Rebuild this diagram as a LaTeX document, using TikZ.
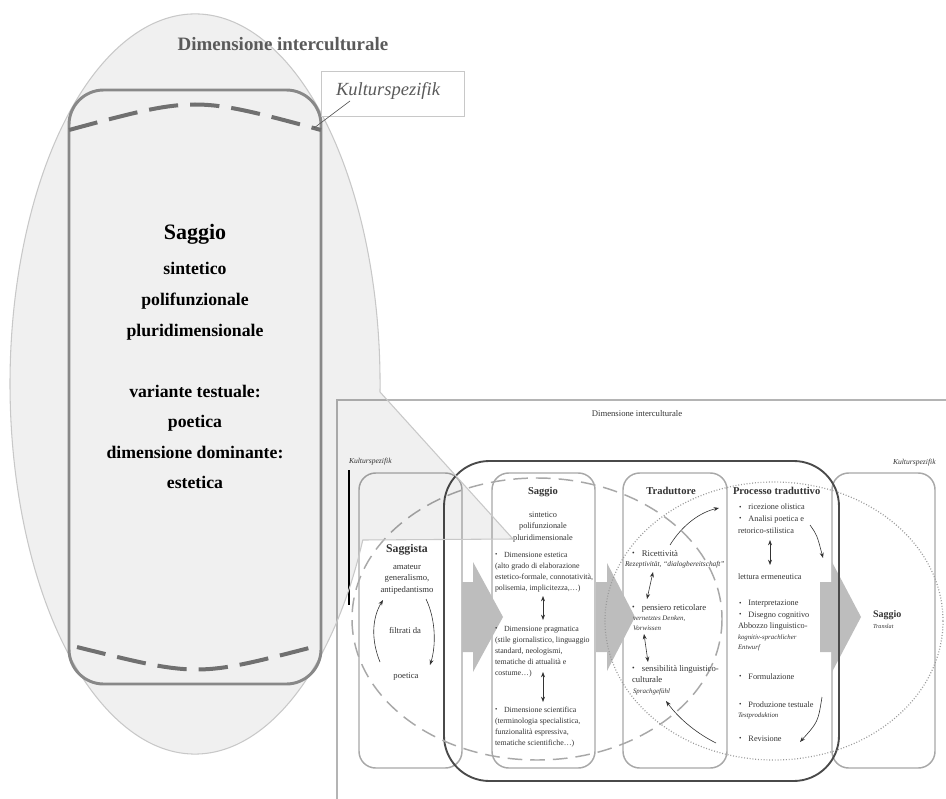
\documentclass[tikz,border=0pt]{standalone}
\usepackage{fontspec}
\usepackage{graphicx}
\setmainfont{Liberation Serif}
\usetikzlibrary{arrows.meta}

\definecolor{boxline}{HTML}{A8A8A8}
\definecolor{darkline}{HTML}{4A4A4A}
\definecolor{arrowfill}{HTML}{BDBDBD}
\definecolor{txt}{HTML}{333333}
\definecolor{headgray}{HTML}{5A5A5A}
\definecolor{framegray}{HTML}{B4B4B4}
\definecolor{dashgray}{HTML}{707070}
\definecolor{rimgray}{HTML}{888888}
\definecolor{calloutline}{HTML}{C8C8C8}
\definecolor{ovalgray}{HTML}{A8A8A8}
\definecolor{dotgray}{HTML}{9A9A9A}

\newcommand{\fsz}[2]{\fontsize{#1}{#2}\selectfont}
\newcommand{\bul}{\raisebox{0.1ex}{\scalebox{0.85}{\textbullet}}\hspace{0.85em}}

\begin{document}
% multi-line nodes are anchored at the baseline of their last line
\begin{tikzpicture}[x=0.75pt,y=-0.75pt,
  every node/.style={inner sep=0pt, outer sep=0pt},
  smallbox/.style={draw=boxline, line width=1.1pt, rounded corners=12.5pt, fill=white},
  bigarrow/.style={fill=arrowfill, draw=none},
  thin/.style={draw=txt, line width=0.45pt, -{Stealth[length=4pt,width=3pt]}},
  twoway/.style={draw=txt, line width=0.45pt, {Stealth[length=4pt,width=3pt]}-{Stealth[length=4pt,width=3pt]}},
  para/.style={text=txt, anchor=base west, align=left},
  cpara/.style={text=txt, anchor=base, align=center},
  bigline/.style={anchor=base, align=center, font=\bfseries\fsz{13.3}{22.9}},
  boxtitle/.style={text=txt, anchor=base, font=\bfseries\fsz{7.9}{9}},
  saggiobody/.style={para, font=\fsz{5.9}{8.25}},
  tradbody/.style={para, font=\fsz{6.5}{8.25}},
  procbody/.style={para, font=\fsz{6.2}{8.4}},
  tinyit/.style={para, font=\itshape\fsz{5.2}{7.5}},
]
\useasboundingbox (0,0) rectangle (946,799);

% ---------- overview diagram ----------
\draw[framegray, line width=1.5pt] (337,400) rectangle (960,820);

\node[text=txt, anchor=base, font=\fsz{6.5}{8}] (dimsmall) at (637,416) {Dimensione interculturale};
\node[text=txt, anchor=base west, font=\itshape\fsz{5.7}{7}] (kultl) at (349,463) {Kulturspezifik};
\node[text=txt, anchor=base west, font=\itshape\fsz{5.7}{7}] (kultr) at (893,464) {Kulturspezifik};
\coordinate (kbarTop) at (349,470);
\coordinate (kbarBot) at (349,605);
\draw[black, line width=0.9pt] (kbarTop) -- (kbarBot);

% the four columns
\node[smallbox, minimum width=103*0.75pt, minimum height=295*0.75pt] (saggista) at (410.5,620.5) {};
\node[smallbox, minimum width=103*0.75pt, minimum height=295*0.75pt] (saggio) at (543.5,620.5) {};
\node[smallbox, minimum width=104*0.75pt, minimum height=295*0.75pt] (trad) at (675,620.5) {};
\node[smallbox, minimum width=103*0.75pt, minimum height=295*0.75pt] (target) at (883.5,620.5) {};

% block arrows between the columns
\path[bigarrow] (462,582) -- (473,582) -- (473,562) -- (503,617) -- (473,672) -- (473,652) -- (462,652) -- cycle;
\path[bigarrow] (596,582) -- (607,582) -- (607,563) -- (635,617) -- (607,671) -- (607,652) -- (596,652) -- cycle;
\path[bigarrow] (820,582) -- (832,582) -- (832,562) -- (861,617) -- (832,672) -- (832,652) -- (820,652) -- cycle;

% translator frame
\draw[darkline, line width=1.4pt, rounded corners=34pt] (444,461) rectangle (839,781);

% overlapping fields
\draw[ovalgray, line width=1.1pt, dash pattern=on 11pt off 6pt] (537,619) ellipse [x radius=185, y radius=141];
\draw[dotgray, line width=0.9pt, dash pattern=on 0.7pt off 1.4pt] (774,621) ellipse [x radius=169, y radius=139];

% Saggista column
\node[text=txt, anchor=base, font=\bfseries\fsz{8.8}{10}] (sgtitle) at (407,552) {Saggista};
\node[cpara, font=\fsz{6.5}{8.6}] (sgtraits) at (407,592) {amateur\\generalismo,\\antipedantismo};
\node[cpara, font=\fsz{6.5}{8}] (sgfilter) at (405,633) {filtrati da};
\node[cpara, font=\fsz{6.5}{8}] (sgpoet) at (406,678) {poetica};
\coordinate (sgA1) at (380,662);
\coordinate (sgA2) at (383,600);
\coordinate (sgB1) at (426,599);
\coordinate (sgB2) at (430,665);
\draw[thin] (sgA1) .. controls (371,640) and (372,618) .. (sgA2);
\draw[thin] (sgB1) .. controls (436,620) and (436,646) .. (sgB2);

% Saggio column
\node[boxtitle] (sotitle) at (543,494) {Saggio};
\node[cpara, font=\fsz{6.2}{8.5}] (sotraits) at (543,540) {sintetico\\polifunzionale\\pluridimensionale};
\node[saggiobody] (soest) at (495,590) {\bul Dimensione estetica\\(alto grado di elaborazione\\estetico-formale, connotatività,\\polisemia, implicitezza,…)};
\node[saggiobody] (soprag) at (495,675) {\bul Dimensione pragmatica\\(stile giornalistico, linguaggio\\standard, neologismi,\\tematiche di attualità e\\costume…)};
\node[saggiobody] (sosci) at (495,745) {\bul Dimensione scientifica\\(terminologia specialistica,\\funzionalità espressiva,\\tematiche scientifiche…)};
\coordinate (soA1) at (543,596);
\coordinate (soA2) at (543,620);
\coordinate (soB1) at (543,672);
\coordinate (soB2) at (543,702);
\draw[twoway] (soA1) -- (soA2);
\draw[twoway] (soB1) -- (soB2);

% Traduttore column
\node[boxtitle] (trtitle) at (671,494) {Traduttore};
\node[tradbody] (trric) at (632,556) {\bul Ricettività};
\node[tinyit, font=\itshape\fsz{5.5}{7}] (trrez) at (625,566) {Rezeptivität, “dialogbereitschaft”};
\node[tradbody] (trpens) at (632,610) {\bul pensiero reticolare};
\node[tinyit] (trvern) at (633,630) {vernetztes Denken,\\Vorwissen};
\node[tradbody] (trsens) at (632,682) {\bul sensibilità linguistico-\\culturale};
\node[tinyit] (trsprach) at (633,693) {Sprachgefühl};
\coordinate (trA1) at (653,572);
\coordinate (trA2) at (647,599);
\coordinate (trB1) at (644,634);
\coordinate (trB2) at (648,662);
\draw[twoway] (trA1) -- (trA2);
\draw[twoway] (trB1) -- (trB2);
\coordinate (trC1) at (670,545);
\coordinate (trC2) at (719,508);
\draw[thin] (trC1) .. controls (683,524) and (701,512) .. (trC2);
\coordinate (trD1) at (716,743);
\coordinate (trD2) at (666,701);
\draw[thin] (trD1) .. controls (698,734) and (680,720) .. (trD2);

% translation process column
\node[text=txt, anchor=base west, font=\bfseries\fsz{7.9}{9}] (prtitle) at (733,494) {Processo traduttivo};
\node[procbody] (prric) at (739,521) {\bul ricezione olistica\\\bul Analisi poetica e};
\node[procbody] (prret) at (738,533) {retorico-stilistica};
\node[procbody] (prlet) at (738,579) {lettura ermeneutica};
\node[procbody] (print) at (739,617) {\bul Interpretazione\\\bul Disegno cognitivo};
\node[procbody] (prabb) at (738,628) {Abbozzo linguistico-};
\node[tinyit, font=\itshape\fsz{5.1}{7.5}] (prkog) at (738,649) {kognitiv-sprachlicher\\Entwurf};
\node[procbody] (prform) at (739,679) {\bul Formulazione};
\node[procbody] (prprod) at (739,707) {\bul Produzione testuale};
\node[tinyit, font=\itshape\fsz{5.1}{7.5}] (prtest) at (738,717) {Testproduktion};
\node[procbody] (prrev) at (739,741) {\bul Revisione};
\coordinate (prA1) at (770,540);
\coordinate (prA2) at (770,565);
\draw[twoway] (prA1) -- (prA2);
\coordinate (prB1) at (810,525);
\coordinate (prB2) at (823,558);
\draw[thin] (prB1) .. controls (817,535) .. (prB2);
\coordinate (prC1) at (822,697);
\coordinate (prC2) at (800,742);
\draw[thin] (prC1) .. controls (818,722) .. (prC2);

% target text column
\node[text=txt, anchor=base west, font=\bfseries\fsz{7.5}{9}] (tgtitle) at (873,617) {Saggio};
\node[text=txt, anchor=base west, font=\itshape\fsz{4.6}{6}] (tgsub) at (873,628) {Translat};

% ---------- magnifying callout ----------
\path[fill=black, fill opacity=0.06, draw=calloutline, line width=0.8pt]
  (362.8,540) arc[start angle=24.94, end angle=361.24, x radius=185, y radius=370]
  -- (513,539) -- cycle;

\node[text=headgray, anchor=base, font=\bfseries\fsz{14.2}{16}] (dimbig) at (283,51) {Dimensione interculturale};

% essay frame with the culture-specific borders
\draw[rimgray, line width=2.2pt, rounded corners=26pt] (69,90) rectangle (321,684);
\coordinate (dTopL) at (69,130);
\coordinate (dTopR) at (321,130);
\coordinate (dBotL) at (77,647);
\coordinate (dBotR) at (313,647);
\draw[dashgray, line width=3pt, dash pattern=on 22pt off 9pt] (dTopL) .. controls (195,96) .. (dTopR);
\draw[dashgray, line width=3pt, dash pattern=on 22pt off 9pt] (dBotL) .. controls (197,677) .. (dBotR);

\node[anchor=base, font=\bfseries\fsz{16.5}{18}] (bigsaggio) at (195,239) {Saggio};
\node[bigline] (bigtraits) at (195,336) {sintetico\\polifunzionale\\pluridimensionale};
\node[bigline] (bigvar) at (195,488.6) {variante testuale:\\poetica\\dimensione dominante:\\estetica};

% label box
\node[draw=calloutline, fill=white, line width=0.6pt, minimum width=143*0.75pt, minimum height=45*0.75pt] (kbox) at (392.5,93.5) {};
\node[text=headgray, anchor=base, font=\itshape\fsz{13.9}{16}] (kbig) at (388,95) {Kulturspezifik};
\coordinate (kpin) at (350,101);
\coordinate (kend) at (314,128);
\draw[headgray, line width=0.5pt] (kpin) -- (kend);

\end{tikzpicture}
\end{document}
